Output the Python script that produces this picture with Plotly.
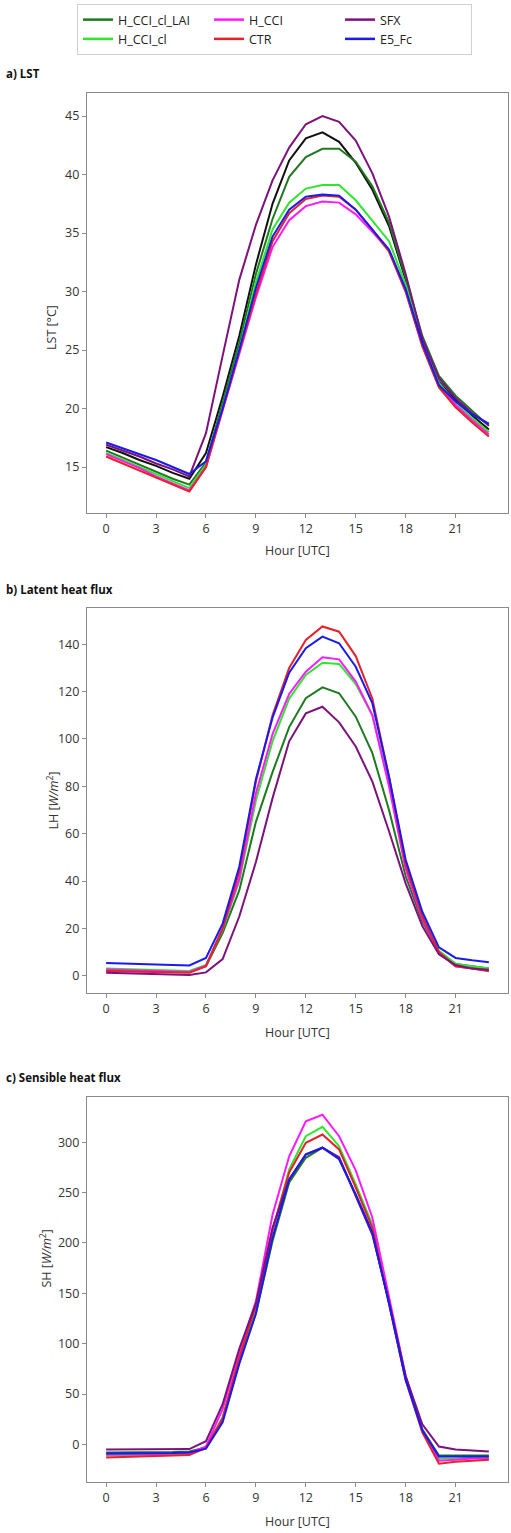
import plotly.graph_objects as go

W, H = 511, 1533
hours = list(range(24))
x_ticks = [0, 3, 6, 9, 12, 15, 18, 21]

series_names = ["H_CCI_cl_LAI", "H_CCI", "SFX", "H_CCI_cl", "CTR", "E5_Fc"]
series_colors = {"H_CCI_cl_LAI": "#1f7a1f", "H_CCI_cl": "#2ee62e", "H_CCI": "#ff19ff",
                 "CTR": "#e8202a", "SFX": "#7d127d", "E5_Fc": "#1a1aee"}

# a) LST [°C]
lst = {
    "SFX":          [16.9, 16.4, 15.9, 15.3, 14.8, 14.2, 17.9, 24.5, 31.0, 35.7, 39.5, 42.3, 44.3, 45.0, 44.5, 42.9, 40.1, 36.4, 31.5, 26.0, 22.6, 20.9, 19.6, 18.6],
    "E5_Fc":        [17.1, 16.6, 16.1, 15.6, 15.0, 14.4, 15.5, 20.0, 25.0, 30.3, 34.7, 37.0, 38.1, 38.3, 38.2, 37.0, 35.3, 33.6, 30.2, 25.6, 22.0, 20.6, 19.5, 18.7],
    "H_CCI_cl_LAI": [16.4, 15.8, 15.2, 14.6, 14.0, 13.5, 15.4, 20.5, 25.6, 31.5, 36.2, 39.8, 41.5, 42.2, 42.2, 41.1, 39.0, 35.9, 31.2, 26.2, 22.8, 21.1, 19.8, 18.5],
    "H_CCI_cl":     [16.2, 15.6, 15.0, 14.4, 13.8, 13.2, 15.2, 20.0, 25.0, 30.8, 35.3, 37.6, 38.8, 39.1, 39.1, 37.8, 36.0, 34.3, 30.6, 25.8, 22.2, 20.5, 19.2, 18.0],
    "H_CCI":        [16.1, 15.5, 14.9, 14.2, 13.6, 13.0, 15.0, 19.8, 24.6, 29.5, 33.8, 36.1, 37.3, 37.7, 37.6, 36.6, 35.1, 33.5, 30.0, 25.5, 21.9, 20.3, 19.0, 17.8],
    "CTR":          [15.9, 15.3, 14.7, 14.1, 13.5, 12.9, 15.0, 19.9, 24.9, 29.8, 34.3, 36.7, 37.9, 38.2, 38.1, 37.0, 35.3, 33.4, 30.0, 25.3, 21.8, 20.1, 18.8, 17.6],
}
lst_black = [16.7, 16.2, 15.6, 15.1, 14.5, 14.0, 16.2, 21.0, 26.2, 32.3, 37.5, 41.2, 43.1, 43.6, 42.8, 41.0, 38.7, 35.6, 31.0, 25.8, 22.3, 20.7, 19.4, 18.2]

# b) LH [W/m2]
lh = {
    "CTR":          [2.0, 1.8, 1.6, 1.5, 1.3, 1.2, 4.0, 20.0, 44.0, 82.0, 110.0, 130.0, 141.8, 147.5, 145.3, 135.0, 117.0, 84.0, 47.0, 25.0, 10.0, 4.0, 3.0, 2.0],
    "E5_Fc":        [5.4, 5.2, 5.0, 4.8, 4.6, 4.3, 7.5, 22.0, 46.0, 83.0, 109.0, 128.0, 138.3, 143.2, 140.4, 130.5, 115.0, 84.0, 49.0, 27.0, 12.0, 7.5, 6.5, 5.7],
    "H_CCI":        [2.6, 2.4, 2.2, 2.0, 1.8, 1.6, 4.2, 20.0, 41.0, 77.0, 102.0, 119.0, 128.4, 134.5, 133.6, 124.2, 110.0, 80.0, 45.0, 24.0, 9.5, 4.0, 3.0, 2.0],
    "H_CCI_cl":     [3.0, 2.8, 2.6, 2.4, 2.2, 2.0, 4.5, 19.5, 40.0, 74.0, 99.0, 117.0, 127.0, 132.2, 131.7, 123.2, 110.0, 81.0, 46.0, 25.0, 10.5, 5.0, 4.0, 3.0],
    "H_CCI_cl_LAI": [2.6, 2.4, 2.2, 2.0, 1.8, 1.6, 4.0, 18.0, 36.0, 65.0, 86.0, 105.0, 117.2, 121.8, 119.3, 109.4, 94.0, 70.0, 42.0, 23.0, 10.0, 5.0, 4.0, 3.0],
    "SFX":          [1.2, 1.0, 0.8, 0.6, 0.4, 0.3, 1.4, 7.0, 25.0, 48.0, 75.0, 99.0, 110.8, 113.6, 107.0, 96.8, 82.0, 61.0, 39.0, 21.0, 9.0, 4.5, 3.0, 2.5],
}

# c) SH [W/m2]
sh = {
    "H_CCI":        [-10.0, -10.0, -9.5, -9.5, -9.0, -8.5, -2.0, 35.0, 92.0, 142.0, 228.0, 286.0, 320.7, 327.2, 305.9, 272.0, 225.0, 145.0, 68.0, 14.0, -16.0, -15.0, -14.0, -14.0],
    "H_CCI_cl":     [-11.0, -11.0, -10.5, -10.5, -10.0, -9.5, -3.0, 27.0, 86.0, 135.0, 212.0, 273.0, 305.9, 315.2, 296.0, 258.0, 218.0, 142.0, 66.0, 13.0, -14.0, -14.0, -13.0, -13.0],
    "CTR":          [-13.0, -12.5, -12.0, -11.5, -11.0, -10.5, -3.5, 26.0, 86.0, 138.0, 213.0, 270.0, 299.4, 307.6, 292.8, 255.0, 215.0, 140.0, 64.0, 12.0, -19.0, -17.0, -16.0, -15.0],
    "E5_Fc":        [-9.0, -9.0, -9.0, -8.5, -8.5, -8.0, -4.2, 22.0, 80.0, 130.0, 205.0, 263.0, 287.8, 294.5, 283.0, 248.0, 210.0, 140.0, 64.0, 14.0, -12.0, -12.0, -12.0, -12.0],
    "H_CCI_cl_LAI": [-8.0, -8.0, -8.0, -7.5, -7.5, -7.0, -3.0, 24.0, 82.0, 130.0, 202.0, 260.0, 284.5, 294.5, 284.0, 248.0, 210.0, 141.0, 66.0, 15.0, -11.0, -11.0, -11.0, -11.0],
    "SFX":          [-5.0, -5.0, -5.0, -5.0, -5.0, -4.5, 3.3, 40.0, 95.0, 140.0, 215.0, 263.0, 288.0, 294.5, 285.0, 246.0, 208.0, 142.0, 68.0, 20.0, -2.0, -5.0, -6.0, -7.0],
}

y_ticks_lst = [15, 20, 25, 30, 35, 40, 45]
y_ticks_lh = [0, 20, 40, 60, 80, 100, 120, 140]
y_ticks_sh = [0, 50, 100, 150, 200, 250, 300]

def py(p):
    return 1 - p / H

x_dom = [87 / W, 508 / W]
panels = [
    dict(data=lst, extra=lst_black, dom=[py(513), py(93)], rng=[11.07, 46.97], ticks=y_ticks_lst,
         ylab="LST [°C]", ylab_x=41, title="<b>a) LST</b>", title_y=73, hour_y=550),
    dict(data=lh, extra=None, dom=[py(993), py(608)], rng=[-7.3, 155.3], ticks=y_ticks_lh,
         ylab="LH [<i>W/m</i><sup>2</sup>]", ylab_x=41, title="<b>b) Latent heat flux</b>", title_y=589, hour_y=1032),
    dict(data=sh, extra=None, dom=[py(1482), py(1097)], rng=[-37.2, 344.8], ticks=y_ticks_sh,
         ylab="SH [<i>W/m</i><sup>2</sup>]", ylab_x=35, title="<b>c) Sensible heat flux</b>", title_y=1077, hour_y=1521),
]

fig = go.Figure()
annotations = []
axis_color = "#8a8a8a"
tick_font = dict(family="Open Sans", size=12.5, color="#333333")

for i, p in enumerate(panels):
    k = "" if i == 0 else str(i + 1)
    xa, ya = "x" + k, "y" + k
    draw_order = ["H_CCI_cl_LAI", "H_CCI_cl", "H_CCI", "CTR", "SFX", "E5_Fc"]
    if p["extra"] is not None:
        fig.add_trace(go.Scatter(x=hours, y=p["extra"], mode="lines", line=dict(color="#111111", width=2),
                                 xaxis=xa, yaxis=ya, showlegend=False))
    for name in draw_order:
        fig.add_trace(go.Scatter(x=hours, y=p["data"][name], mode="lines", name=name,
                                 line=dict(color=series_colors[name], width=2),
                                 xaxis=xa, yaxis=ya, showlegend=False))
    axcommon = dict(showline=True, mirror=True, linecolor=axis_color, linewidth=1.3,
                    ticks="outside", ticklen=4, tickcolor=axis_color, showgrid=False,
                    zeroline=False, tickfont=tick_font)
    fig.update_layout(**{
        "xaxis" + k: dict(domain=x_dom, range=[-1.15, 24.15], tickvals=x_ticks, anchor=ya, **axcommon),
        "yaxis" + k: dict(domain=p["dom"], range=p["rng"], tickvals=p["ticks"], anchor=xa, **axcommon),
    })
    annotations.append(dict(text=p["ylab"], x=p["ylab_x"] / W, y=(p["dom"][0] + p["dom"][1]) / 2,
                            xref="paper", yref="paper", showarrow=False, textangle=-90,
                            font=dict(family="Open Sans", size=12.5, color="#333333")))
    annotations.append(dict(text=p["title"], x=4 / W, y=py(p["title_y"]), xref="paper", yref="paper",
                            xanchor="left", yanchor="middle", showarrow=False,
                            font=dict(family="Open Sans", size=11.5, color="#111111")))
    annotations.append(dict(text="Hour [UTC]", x=(x_dom[0] + x_dom[1]) / 2, y=py(p["hour_y"]),
                            xref="paper", yref="paper", showarrow=False, yanchor="middle",
                            font=dict(family="Open Sans", size=12.5, color="#333333")))

# legend entries (legend order as in reference)
for name in series_names:
    fig.add_trace(go.Scatter(x=[None], y=[None], mode="lines", name=name,
                             line=dict(color=series_colors[name], width=2.5), showlegend=True))

fig.update_layout(
    width=W, height=H,
    margin=dict(l=0, r=0, t=0, b=0),
    paper_bgcolor="white", plot_bgcolor="white",
    annotations=annotations,
    legend=dict(orientation="h", x=77 / W, y=py(4), xanchor="left", yanchor="top",
                bordercolor="#d0d0d0", borderwidth=1, bgcolor="white",
                font=dict(family="Open Sans", size=12.5, color="#222222"),
                entrywidth=86, entrywidthmode="pixels", itemwidth=30),
)

fig.write_html("out.html")
